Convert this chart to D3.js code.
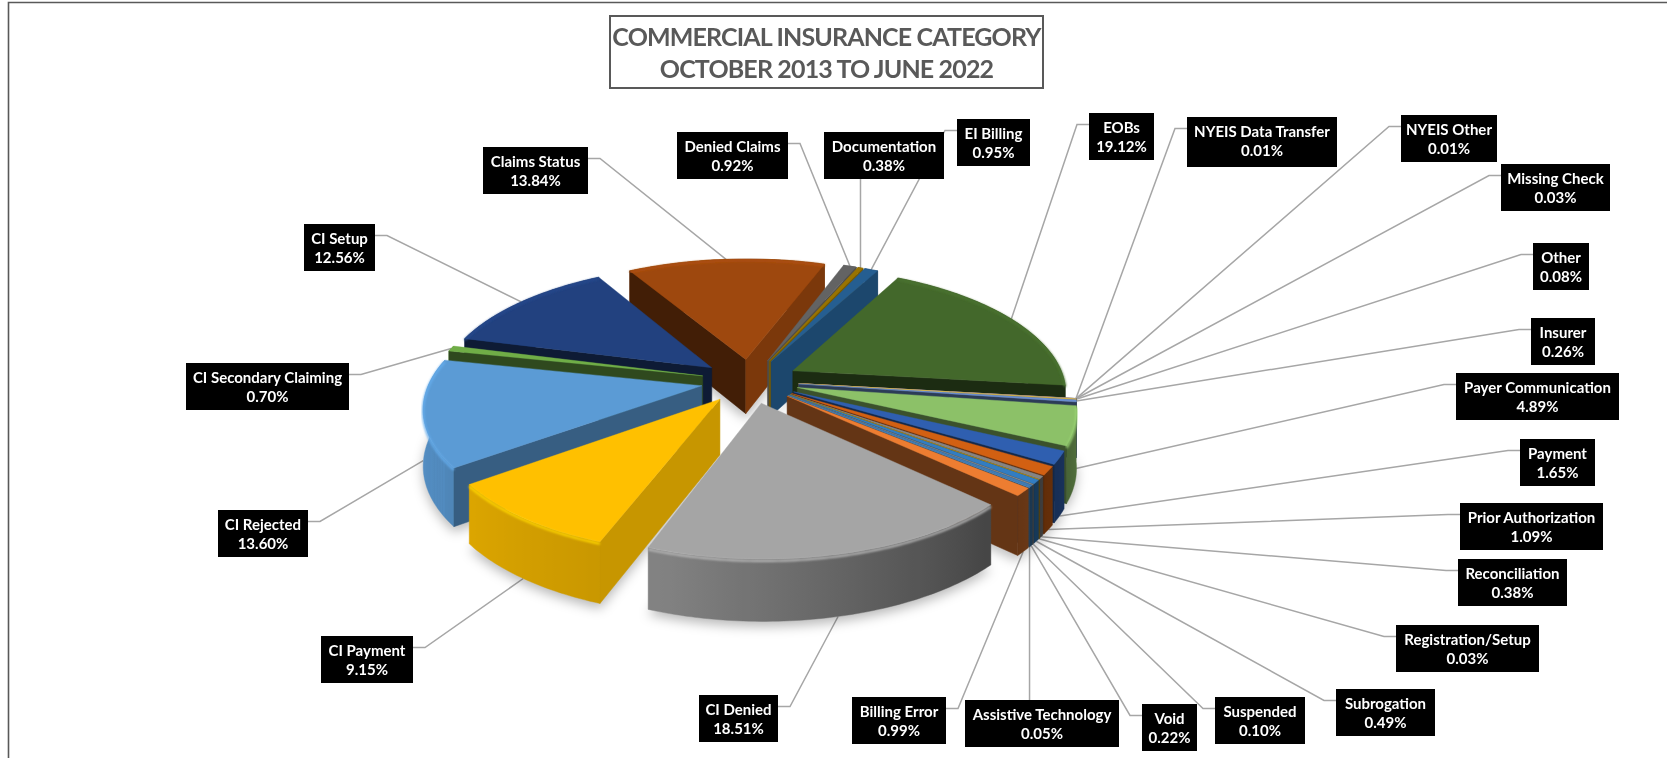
<!DOCTYPE html>
<html>
<head>
<meta charset="utf-8">
<title>Commercial Insurance Category</title>
<script src="https://cdn.jsdelivr.net/npm/d3@7/dist/d3.min.js"></script>
<style>
  html, body { margin: 0; padding: 0; background: #fff; overflow: hidden; }
  svg { display: block; }
  text { font-family: Lato, "Open Sans", sans-serif; font-weight: 700; }
</style>
</head>
<body>
<svg id="chart" width="1667" height="758"></svg>
<script>
// Share of calls per category, clockwise from the lower right of the pie.
const categories = [
  "Assistive Technology", "Billing Error", "CI Denied", "CI Payment", "CI Rejected",
  "CI Secondary Claiming", "CI Setup", "Claims Status", "Denied Claims", "Documentation",
  "EI Billing", "EOBs", "NYEIS Data Transfer", "NYEIS Other", "Missing Check", "Other",
  "Insurer", "Payer Communication", "Payment", "Prior Authorization", "Reconciliation",
  "Registration/Setup", "Subrogation", "Suspended", "Void"
];
const percents = [
  0.05, 0.99, 18.51, 9.15, 13.60, 0.70, 12.56, 13.84, 0.92, 0.38, 0.95, 19.12,
  0.01, 0.01, 0.03, 0.08, 0.26, 4.89, 1.65, 1.09, 0.38, 0.03, 0.49, 0.10, 0.22
];
const sliceColors = [
  "#5B9BD5", "#ED7D31", "#A5A5A5", "#FFC000", "#5B9BD5", "#70AD47", "#22417F", "#9E480E",
  "#636363", "#997300", "#255E91", "#43682B", "#7CAFDD", "#F1975A", "#B7B7B7", "#FFCD33",
  "#698ED0", "#8CC168", "#2F5FB0", "#D26012", "#848484", "#CC9A00", "#327DC2", "#8A8A8A", "#3F7CB5"
];
const titleLines = ["COMMERCIAL INSURANCE CATEGORY", "OCTOBER 2013 TO JUNE 2022"];

// Callout boxes: left, top, width, which edge the leader leaves from.
const calloutLeft = [965, 852, 699, 321, 218, 186, 304, 483, 677, 824, 957, 1089, 1187, 1401, 1501, 1533, 1531, 1456, 1520, 1460, 1458, 1396, 1336, 1215, 1142];
const calloutTop = [700, 697, 695, 636, 510, 363, 224, 147, 132, 132, 119, 113, 117, 115, 164, 243, 318, 373, 439, 503, 559, 625, 689, 697, 704];
const calloutWidth = [154, 94, 79, 92, 90, 163, 71, 105, 111, 120, 73, 65, 150, 96, 109, 56, 64, 163, 75, 143, 109, 143, 99, 90, 55];
const calloutEdge = ["top", "right", "right", "right", "right", "right", "right", "right", "right", "bottom", "left", "left", "left", "left", "left", "left", "left", "left", "left", "left", "left", "left", "left", "left", "left"];
const elbowGap = 12;

const width = 1667, height = 758;
const svg = d3.select("#chart");
const defs = svg.append("defs");
defs.append("filter").attr("id", "soft-shadow")
  .attr("x", "-10%").attr("y", "-10%").attr("width", "120%").attr("height", "130%")
  .append("feGaussianBlur").attr("stdDeviation", 6);
defs.append("filter").attr("id", "rim-blur")
  .attr("x", "-5%").attr("y", "-5%").attr("width", "110%").attr("height", "110%")
  .append("feGaussianBlur").attr("stdDeviation", 1);

// Chart frame, open on the right and at the foot.
svg.append("path")
  .attr("d", d3.line()([[8.5, height], [8.5, 2.5], [width, 2.5]]))
  .attr("fill", "none").attr("stroke", "#595959").attr("stroke-width", 1.6);

// Perspective projection of the tilted pie onto the page.
const center = { x: 750, y: 381 };
const spreadX = 272, spreadY = 123, wallDepth = 55, perspective = 0.16, explode = 0.18;
const firstSliceAngle = 130;
const xScale = d3.scaleLinear().domain([-1, 1]).range([center.x - spreadX, center.x + spreadX]);
const yScale = d3.scaleLinear().domain([-1, 1]).range([center.y - spreadY, center.y + spreadY]);

function project(X, Y, z) {
  const s = 1 / (1 - perspective * Y);
  return [
    center.x + (xScale(X) - center.x) * s,
    center.y + (yScale(Y) - center.y) * s + wallDepth * z * Math.pow(s, 0.6)
  ];
}

const arcs = d3.pie().sort(null).value(d => d)
  .startAngle(firstSliceAngle * Math.PI / 180)
  .endAngle((firstSliceAngle + 360) * Math.PI / 180)(percents);

// Geometry of one exploded wedge in pie-plane units.
const wedges = arcs.map((a, i) => {
  const mid = (a.startAngle + a.endAngle) / 2;
  const ox = explode * Math.sin(mid), oy = -explode * Math.cos(mid);
  const steps = Math.max(1, Math.ceil((a.endAngle - a.startAngle) / (Math.PI / 180)));
  const angles = d3.range(steps + 1).map(k => a.startAngle + (a.endAngle - a.startAngle) * k / steps);
  const rimPts = angles.map(t => [ox + Math.sin(t), oy - Math.cos(t)]);
  return {
    i, mid, ox, oy, angles, rimPts,
    color: sliceColors[i],
    depthKey: oy - 0.5 * Math.cos(mid)
  };
});

const polygon = d3.line().curve(d3.curveLinearClosed);
const polyline = d3.line();
const shade = (c, f) => {
  const r = d3.rgb(c);
  return d3.rgb(r.r * f, r.g * f, r.b * f).formatHex();
};
const degrees = t => ((t * 180 / Math.PI) % 360 + 360) % 360;

// Brightness of the curved outer wall around the pie.
const rimShade = d3.scaleLinear()
  .domain([0, 95, 135, 196, 260, 360])
  .range([0.7, 0.62, 0.42, 0.78, 0.92, 0.8])
  .clamp(true);
const radialShade = nx => Math.max(0.42, Math.min(0.85, 0.31 + 0.5 * nx));

// How far down the wall a leader attaches: top rim on the far side, foot on the near side.
const anchorRight = d3.scaleLinear().domain([0.14, 0.34]).range([0, 1]).clamp(true);
const anchorLeft = d3.scaleLinear().domain([0, 0.25]).range([0, 1]).clamp(true);

// Leader lines sit under the pie and under the callout boxes.
const leaderLayer = svg.append("g");
const shadowLayer = svg.append("g").attr("filter", "url(#soft-shadow)");
const pieLayer = svg.append("g");
const calloutLayer = svg.append("g");

wedges.forEach(w => {
  shadowLayer.append("path")
    .attr("d", polygon([[w.ox, w.oy], ...w.rimPts].map(p => {
      const q = project(p[0], p[1], 1);
      return [q[0], q[1] + 5];
    })))
    .attr("fill", "#000").attr("opacity", 0.28);
});

// Far wedges first so nearer ones paint over them.
[...wedges].sort((a, b) => a.depthKey - b.depthKey).forEach(w => {
  const g = pieLayer.append("g");
  const apexTop = project(w.ox, w.oy, 0), apexBottom = project(w.ox, w.oy, 1);
  const first = w.angles[0], last = w.angles[w.angles.length - 1];

  // Curved outer wall, shaded by a left-to-right gradient that follows the rim angle.
  const topEdge = w.rimPts.map(p => project(p[0], p[1], 0));
  const lowEdge = w.rimPts.map(p => project(p[0], p[1], 1));
  const xs = topEdge.map(p => p[0]);
  const [xMin, xMax] = d3.extent(xs);
  const gradId = "rim-" + w.i;
  const grad = defs.append("linearGradient").attr("id", gradId)
    .attr("gradientUnits", "userSpaceOnUse")
    .attr("x1", xMin).attr("x2", xMax + 0.01).attr("y1", 0).attr("y2", 0);
  d3.range(xs.length)
    .sort((a, b) => xs[a] - xs[b])
    .forEach(k => {
      grad.append("stop")
        .attr("offset", (xs[k] - xMin) / (xMax - xMin + 0.01))
        .attr("stop-color", shade(w.color, rimShade(degrees(w.angles[k]))));
    });
  g.append("path").attr("d", polygon([...topEdge, ...lowEdge.slice().reverse()]))
    .attr("fill", `url(#${gradId})`).attr("stroke", `url(#${gradId})`).attr("stroke-width", 0.4);

  // Flat cut faces from the apex to each end of the rim; only those facing the viewer.
  const cuts = [
    { pt: w.rimPts[0], nx: -Math.cos(first), ny: -Math.sin(first) },
    { pt: w.rimPts[w.rimPts.length - 1], nx: Math.cos(last), ny: Math.sin(last) }
  ];
  cuts.filter(c => c.ny > -0.08).forEach(c => {
    const face = [apexTop, project(c.pt[0], c.pt[1], 0), project(c.pt[0], c.pt[1], 1), apexBottom];
    const fill = shade(w.color, radialShade(c.nx));
    g.append("path").attr("d", polygon(face)).attr("fill", fill)
      .attr("stroke", fill).attr("stroke-width", 0.5);
  });

  // Top face and its soft bevelled edge.
  g.append("path").attr("d", polygon([apexTop, ...topEdge])).attr("fill", w.color)
    .attr("stroke", w.color).attr("stroke-width", 0.4);
  if (percents[w.i] > 2) {
    g.append("path")
      .attr("d", polyline(w.rimPts.map(p => project(p[0], p[1], 0.03))))
      .attr("fill", "none")
      .attr("stroke", d3.rgb(w.color).brighter(0.3).formatHex())
      .attr("stroke-width", 2.2)
      .attr("filter", "url(#rim-blur)");
  }
});

// Callouts: black boxes with the category and its share, tied to the rim by a leader.
const boxHeight = i => (categories[i] === "NYEIS Data Transfer" ? 50 : 47);
wedges.forEach(w => {
  const i = w.i;
  const left = calloutLeft[i], top = calloutTop[i], bw = calloutWidth[i], bh = boxHeight(i);
  const outerX = w.ox + Math.sin(w.mid), outerY = w.oy - Math.cos(w.mid);
  const nearness = -Math.cos(w.mid);
  const zFrac = Math.sin(w.mid) < 0 ? anchorLeft(nearness) : anchorRight(nearness);
  const end = project(outerX, outerY, zFrac);
  const rowY = top + 11.5;
  let pts;
  if (calloutEdge[i] === "left") pts = [[left, rowY], [left - elbowGap, rowY], end];
  else if (calloutEdge[i] === "right") pts = [[left + bw, rowY], [left + bw + elbowGap, rowY], end];
  else if (calloutEdge[i] === "top") pts = [[end[0], top], end];
  else pts = [[end[0], top + bh], end];
  leaderLayer.append("path").attr("d", polyline(pts))
    .attr("fill", "none").attr("stroke", "#A6A6A6").attr("stroke-width", 1.5);

  const box = calloutLayer.append("g");
  box.append("rect").attr("x", left).attr("y", top).attr("width", bw).attr("height", bh).attr("fill", "#000");
  const cx = left + bw / 2;
  box.append("text").attr("x", cx).attr("y", top + 19.5).attr("text-anchor", "middle")
    .attr("font-size", 15).attr("fill", "#fff").text(categories[i]);
  box.append("text").attr("x", cx).attr("y", top + 38.5).attr("text-anchor", "middle")
    .attr("font-size", 15).attr("fill", "#fff").text(percents[i].toFixed(2) + "%");
});

// Title plate.
const title = svg.append("g");
title.append("rect").attr("x", 610).attr("y", 16).attr("width", 433).attr("height", 72)
  .attr("fill", "#fff").attr("stroke", "#595959").attr("stroke-width", 2);
titleLines.forEach((line, i) => {
  title.append("text").attr("x", 826.5).attr("y", 46 + i * 32)
    .attr("text-anchor", "middle").attr("font-size", 25).attr("letter-spacing", -0.85)
    .attr("fill", "#595959").text(line);
});
</script>
</body>
</html>
